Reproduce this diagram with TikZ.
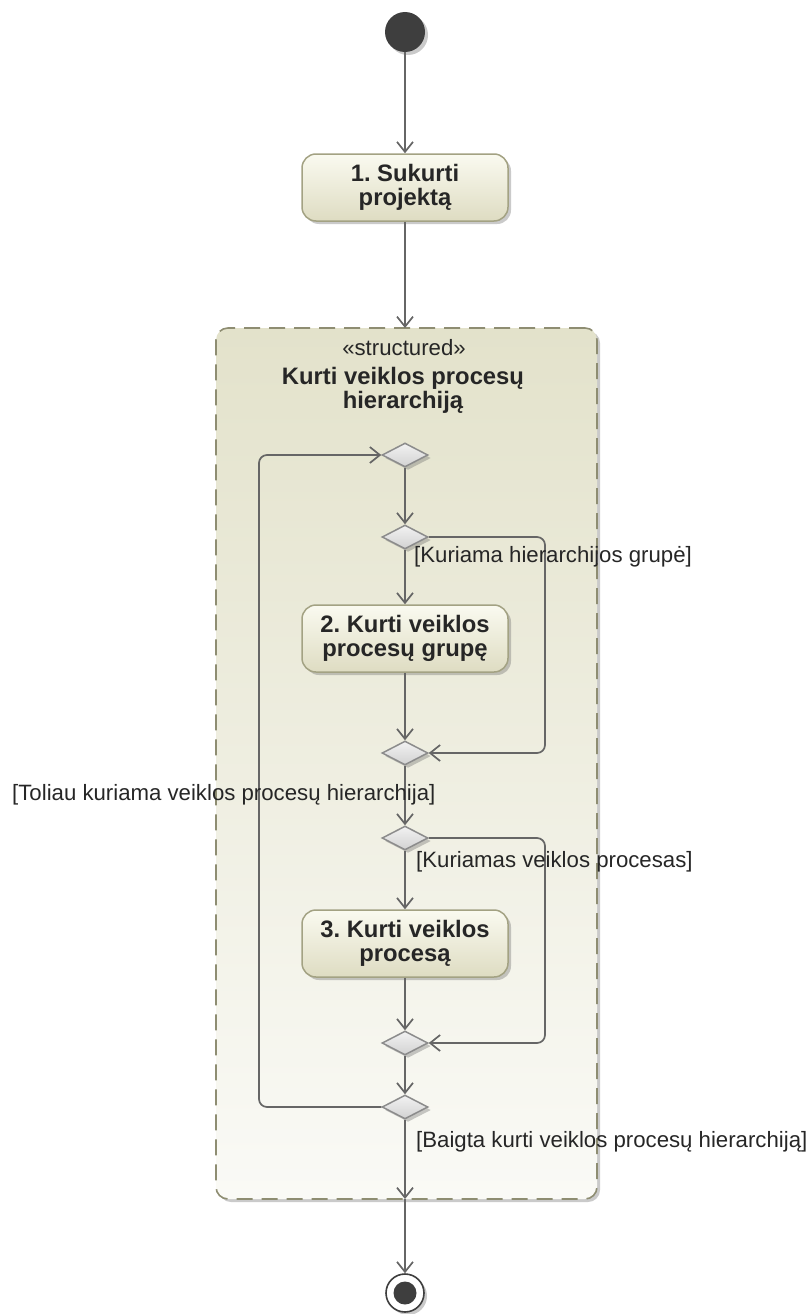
\documentclass[tikz,border=0pt]{standalone}
\usepackage{fontspec}
\setmainfont{Liberation Sans}
\usetikzlibrary{arrows.meta,shapes.geometric,shadows}

\definecolor{edgecol}{HTML}{666666}
\definecolor{textcol}{HTML}{262626}
\definecolor{actborder}{HTML}{A3A283}
\definecolor{acttop}{HTML}{FAFAF0}
\definecolor{actbot}{HTML}{DEDCC2}
\definecolor{regborder}{HTML}{8E8D72}
\definecolor{regtop}{HTML}{E3E2CB}
\definecolor{regbot}{HTML}{FAFAF6}
\definecolor{decborder}{HTML}{8C8C8C}
\definecolor{dectop}{HTML}{F2F2F2}
\definecolor{decbot}{HTML}{D2D2D2}
\definecolor{nodedark}{HTML}{3E3E3E}

\newcommand{\boldtext}{\fontsize{23.8}{23.5}\selectfont\bfseries\frenchspacing}
\newcommand{\plaintext}{\fontsize{22.2}{23}\selectfont\frenchspacing}

\begin{document}
\begin{tikzpicture}[x=1pt,y=-1pt,
  flow/.style={draw=edgecol, line width=1.7pt,
    -{Straight Barb[length=10pt,width=16pt,line width=1.7pt]}},
  softshadow/.style={drop shadow={shadow xshift=3pt, shadow yshift=-3pt,
    opacity=0.35, fill=black!60}},
  action/.style={rectangle, rounded corners=14pt, draw=actborder,
    line width=1.5pt, minimum width=206pt, minimum height=67pt,
    top color=acttop, bottom color=actbot, softshadow,
    font=\boldtext, align=center, text=textcol, inner sep=2pt},
  decision/.style={diamond, draw=decborder, line width=1.5pt,
    minimum width=46pt, minimum height=24pt, inner sep=0pt,
    top color=dectop, bottom color=decbot, softshadow},
  guard/.style={font=\plaintext, text=textcol, inner sep=0pt, anchor=west},
  region/.style={rectangle, rounded corners=12pt, draw=regborder,
    line width=1.6pt, dash pattern=on 16pt off 9pt,
    top color=regtop, bottom color=regbot, softshadow,
    minimum width=381pt, minimum height=871pt, inner sep=0pt}
]
\useasboundingbox (0,0) rectangle (811,1314);

% structured activity region
\node[region] (reg) at (406.5,763.5) {};
\node[font=\plaintext, text=textcol, inner sep=0pt] (stereo) at (404,348) {«structured»};
\node[font=\boldtext, text=textcol, align=center, inner sep=0pt] (regname) at (403,390.5)
  {Kurti veiklos procesų\\hierarchiją};

% initial and final nodes
\node[circle, fill=nodedark, minimum size=40pt, inner sep=0pt, softshadow] (start) at (405,32) {};
\node[circle, draw=nodedark, fill=white, line width=1.6pt, minimum size=38pt,
  inner sep=0pt, softshadow] (stop) at (405,1293) {};
\node[circle, fill=nodedark, minimum size=23pt, inner sep=0pt] (stopdot) at (405,1293) {};

% actions
\node[action] (a1) at (405,187.5) {1. Sukurti\\projektą};
\node[action] (a2) at (405,638.5) {2. Kurti veiklos\\procesų grupę};
\node[action] (a3) at (405,943.5) {3. Kurti veiklos\\procesą};

% decision and merge nodes
\node[decision] (d1) at (405,455) {};
\node[decision] (d2) at (405,537) {};
\node[decision] (d3) at (405,753) {};
\node[decision] (d4) at (405,838) {};
\node[decision] (d5) at (405,1043) {};
\node[decision] (d6) at (405,1107) {};

% corner points of the loops
\coordinate (loopL) at (259,455);
\coordinate (loopR1) at (545,537);
\coordinate (loopR2) at (545,838);
\coordinate (regtopin) at (405,328);
\coordinate (regbotin) at (405,1199);

% control flows
\draw[flow] (start) -- (a1);
\draw[flow] (a1) -- (regtopin);
\draw[flow] (d1) -- (d2);
\draw[flow] (d2) -- (a2);
\draw[flow, rounded corners=8pt] (d2.east) -- (loopR1) |- (d3.east);
\draw[flow] (a2) -- (d3);
\draw[flow] (d3) -- (d4);
\draw[flow, rounded corners=8pt] (d4.east) -- (loopR2) |- (d5.east);
\draw[flow] (d4) -- (a3);
\draw[flow] (a3) -- (d5);
\draw[flow] (d5) -- (d6);
\draw[flow, rounded corners=8pt] (d6.west) -| (loopL) -- (d1.west);
\draw[flow] (d6) -- (regbotin);
\draw[flow] (regbotin) -- (stop);

% guards
\node[guard] (g1) at (414,557) {[Kuriama hierarchijos grupė]};
\node[guard] (g2) at (12,795) {[Toliau kuriama veiklos procesų hierarchija]};
\node[guard] (g3) at (416,862) {[Kuriamas veiklos procesas]};
\node[guard] (g4) at (416,1142) {[Baigta kurti veiklos procesų hierarchiją]};
\end{tikzpicture}
\end{document}
